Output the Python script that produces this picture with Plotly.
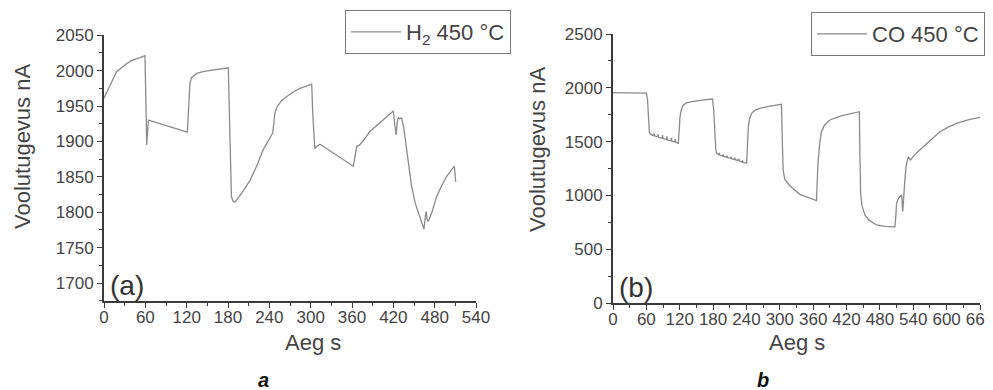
import plotly.graph_objects as go

# page is 993x390; the HTML body adds an 8px margin, so the figure is drawn 8px smaller
OX, OY = 8, 8
W, H = 993 - OX, 390 - OY

# ---- Panel (a): H2 450 °C ----
time_a = [0, 4, 9, 14, 18, 25, 33, 40, 47, 54, 59.5, 62, 64.5, 121, 123, 124.8, 127, 130, 134.5, 145, 160, 178, 180.5,
          183, 185, 187.5, 190, 193, 200, 212, 222, 231, 238, 243, 245, 247, 248, 252, 258, 265, 275, 284.5, 295, 301.5,
          303, 305, 306, 309, 313.5, 362, 363, 365, 366.8, 371, 378, 386, 400, 410, 420, 422, 424, 425.5, 427, 429, 432,
          435, 439, 446.6, 452, 458.7, 462, 464.5, 466, 467.5, 469, 470.8, 476, 482.8, 490, 497, 503, 508.6, 510.5]
current_a = [1961, 1970, 1980, 1990, 1998, 2004, 2010, 2014, 2017, 2019, 2021, 1895, 1930, 1913, 1950, 1982, 1990, 1993, 1996, 1999, 2001, 2003, 2004,
             1900, 1822, 1815, 1814, 1818, 1827, 1845, 1866, 1888, 1900, 1909, 1912, 1930, 1940, 1950, 1958, 1963, 1970, 1975, 1979, 1981,
             1940, 1895, 1890, 1893, 1896, 1865, 1872, 1888, 1893, 1895, 1903, 1914, 1926, 1934, 1943, 1925, 1909, 1925, 1934, 1932, 1933,
             1920, 1893, 1836, 1812, 1794, 1785, 1776, 1790, 1801, 1790, 1787, 1800, 1822, 1837, 1850, 1858, 1865, 1843]

# ---- Panel (b): CO 450 °C ----
time_b = [0, 60, 62, 64, 65.3, 67, 69.5, 72, 74, 75, 80, 81, 82, 88, 89, 90, 96, 97, 98, 104, 105, 106, 111, 112, 113, 117.5,
          119, 120.5, 123, 126.5, 132, 141.5, 160, 179,
          181, 183.4, 185, 186.4, 190, 191, 192, 197, 198, 199, 204, 205, 206, 211, 212, 213, 218, 219, 220, 225, 226, 227,
          232, 233, 234, 240.4,
          242, 243.3, 246, 249.4, 255, 264, 280, 303,
          304.5, 306, 309, 318, 336, 350, 366,
          367, 369, 372, 375, 380, 390, 410, 430, 443,
          444, 445.3, 448, 453, 460, 474, 490, 507,
          508.5, 510, 514, 519, 521, 522.5, 525, 527, 531, 535, 545, 558, 573, 588, 603, 618, 640, 660]
current_b = [1955, 1950, 1900, 1650, 1592, 1570, 1561, 1555, 1575, 1552, 1545, 1570, 1540, 1532, 1560, 1528, 1520, 1548, 1516, 1508, 1535, 1504, 1496, 1522, 1494, 1484,
             1600, 1732, 1800, 1840, 1860, 1871, 1885, 1896,
             1800, 1499, 1420, 1391, 1380, 1395, 1375, 1365, 1380, 1362, 1355, 1370, 1352, 1345, 1360, 1342, 1335, 1350, 1332, 1325, 1340, 1320,
             1312, 1325, 1308, 1298,
             1450, 1638, 1720, 1763, 1790, 1809, 1828, 1846,
             1500, 1236, 1150, 1090, 1010, 985, 951,
             1100, 1329, 1500, 1592, 1650, 1701, 1740, 1765, 1778,
             1400, 1020, 900, 818, 770, 725, 712, 709,
             800, 926, 980, 1004, 849, 1000, 1150, 1267, 1360, 1329, 1390, 1453, 1525, 1592, 1635, 1670, 1705, 1726]

x_ticks_a = [0, 60, 120, 180, 240, 300, 360, 420, 480, 540]
y_ticks_a = [1700, 1750, 1800, 1850, 1900, 1950, 2000, 2050]
x_ticks_b = [0, 60, 120, 180, 240, 300, 360, 420, 480, 540, 600, 660]
y_ticks_b = [0, 500, 1000, 1500, 2000, 2500]

LINE_COL = "#8a8a8a"
AX_COL = "#3a3a3a"
TXT_COL = "#444444"
FONT = "Liberation Sans, Arial, sans-serif"


def px(x):
    return (x - OX) / W


def py(y):
    return 1 - (y - OY) / H


fig = go.Figure()
fig.add_trace(go.Scatter(x=time_a, y=current_a, mode="lines", name="H<sub>2</sub> 450 °C",
                         line=dict(color=LINE_COL, width=1.3), xaxis="x", yaxis="y", legend="legend"))
fig.add_trace(go.Scatter(x=time_b, y=current_b, mode="lines", name="CO 450 °C",
                         line=dict(color=LINE_COL, width=1.3), xaxis="x2", yaxis="y2", legend="legend2"))


def axis(domain, rng, ticks, minor_dtick, anchor, standoff):
    return dict(domain=domain, range=rng, anchor=anchor, tickvals=ticks, ticktext=[str(t) for t in ticks],
                showline=True, linecolor=AX_COL, linewidth=1.8, ticks="outside", ticklen=5, tickwidth=1.3,
                tickcolor=AX_COL, showgrid=False, zeroline=False, automargin=False,
                ticklabelstandoff=standoff, ticklabeloverflow="allow",
                tickfont=dict(family=FONT, size=17, color=TXT_COL),
                minor=dict(dtick=minor_dtick, tick0=0, ticks="outside", ticklen=3, tickwidth=1.2, tickcolor=AX_COL,
                           showgrid=False))


fig.update_layout(
    width=W, height=H, margin=dict(l=0, r=0, t=0, b=0, autoexpand=False),
    paper_bgcolor="white", plot_bgcolor="white",
    font=dict(family=FONT, color=TXT_COL),
    xaxis=axis([px(104), px(476)], [0, 540], x_ticks_a, 30, "y", -5),
    yaxis=axis([py(300.7), py(35.2)], [1675, 2050], y_ticks_a, 25, "x", 0),
    xaxis2=axis([px(613), px(980)], [0, 660], x_ticks_b, 30, "y2", -5),
    yaxis2=axis([py(303), py(34)], [0, 2500], y_ticks_b, 250, "x2", 0),
    showlegend=True,
    legend=dict(x=px(345), y=py(10), xanchor="left", yanchor="top", bgcolor="white",
                bordercolor="#777777", borderwidth=1, font=dict(family=FONT, size=22, color=TXT_COL),
                itemwidth=50),
    legend2=dict(x=px(811), y=py(12), xanchor="left", yanchor="top", bgcolor="white",
                 bordercolor="#777777", borderwidth=1, font=dict(family=FONT, size=22, color=TXT_COL),
                 itemwidth=50),
)

annots = [
    dict(text="Voolutugevus nA", x=px(22), y=py(147), textangle=-90, size=22, color=TXT_COL),
    dict(text="Voolutugevus nA", x=px(537), y=py(150), textangle=-90, size=22, color=TXT_COL),
    dict(text="Aeg s", x=px(313), y=py(342), textangle=0, size=22, color=TXT_COL),
    dict(text="Aeg s", x=px(797), y=py(342), textangle=0, size=22, color=TXT_COL),
    dict(text="(a)", x=px(127), y=py(285), textangle=0, size=28, color="#333333"),
    dict(text="(b)", x=px(636), y=py(287), textangle=0, size=28, color="#333333"),
    dict(text="<b><i>a</i></b>", x=px(263), y=py(380), textangle=0, size=20, color="#111111"),
    dict(text="<b><i>b</i></b>", x=px(763), y=py(380), textangle=0, size=20, color="#111111"),
]
for a in annots:
    fig.add_annotation(text=a["text"], x=a["x"], y=a["y"], xref="paper", yref="paper",
                       xanchor="center", yanchor="middle", showarrow=False, textangle=a["textangle"],
                       font=dict(family=FONT, size=a["size"], color=a["color"]))

fig.write_html("out.html")
